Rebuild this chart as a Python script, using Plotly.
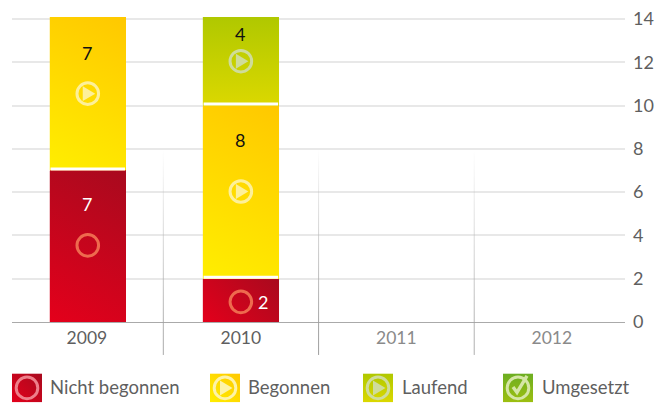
import base64
import plotly.graph_objects as go

years = [2009, 2010, 2011, 2012]
year_labels = ["2009", "2010", "2011", "2012"]
series_names = ["Nicht begonnen", "Begonnen", "Laufend", "Umgesetzt"]
nicht_begonnen = [7, 2, 0, 0]
begonnen = [7, 8, 0, 0]
laufend = [0, 4, 0, 0]
umgesetzt = [0, 0, 0, 0]
y_ticks = [0, 2, 4, 6, 8, 10, 12, 14]

W, H = 665, 403
L, R, T, B = 12, 40, 17, 80.5
PW, PH = W - L - R, H - T - B
XMIN, XMAX = 2008.528, 2012.471
YMAX = 14.09
PX_Y = YMAX / PH
PX_X = (XMAX - XMIN) / PW
BAR_W = 76.5 * PX_X
BAR_SHIFT = {2009: 2.4 * PX_X, 2010: 0, 2011: 0, 2012: 0}
FONT = "Lato"

GRAD = {
    "Nicht begonnen": ("diag", "#e4001b", "#a80a1e"),
    "Begonnen": ("diag", "#ffee00", "#ffc800"),
    "Laufend": ("vert", "#dbd800", "#b0c800"),
    "Umgesetzt": ("vert", "#9dbf10", "#6cae22"),
}
SOLID = {"Nicht begonnen": "#c80a1e", "Begonnen": "#ffdc00", "Laufend": "#c8d000", "Umgesetzt": "#85b619"}
ICON = {"Nicht begonnen": "ring", "Begonnen": "play", "Laufend": "play", "Umgesetzt": "check"}


def uri(svg):
    return "data:image/svg+xml;base64," + base64.b64encode(svg.encode()).decode()


def grad_defs(name, w, h):
    kind, c1, c2 = GRAD[name]
    if kind == "diag":
        k = 0.55 if h > w else 1.0
        dy = (k * w + h) / (2 * (k * k + 1))
        dx = k * dy
        x1, y1, x2, y2 = w / 2 - dx, h / 2 + dy, w / 2 + dx, h / 2 - dy
    else:
        x1, y1, x2, y2 = 0, h, 0, 0
    return (f'<defs><linearGradient id="g" gradientUnits="userSpaceOnUse" x1="{x1}" y1="{y1}" x2="{x2}" y2="{y2}">'
            f'<stop offset="0" stop-color="{c1}"/><stop offset="1" stop-color="{c2}"/></linearGradient></defs>')


def grad_svg(name, w, h):
    return (f'<svg xmlns="http://www.w3.org/2000/svg" width="{w}" height="{h}" viewBox="0 0 {w} {h}" preserveAspectRatio="none">'
            + grad_defs(name, w, h) + f'<rect width="{w}" height="{h}" fill="url(#g)"/></svg>')


def icon_parts(kind, cx, cy, stroke, fill):
    s = f'<circle cx="{cx}" cy="{cy}" r="10.8" fill="none" stroke="{stroke}" stroke-width="3"/>'
    if kind == "play":
        s += f'<path d="M{cx-5} {cy-7.5} L{cx+7.5} {cy} L{cx-5} {cy+7.5} Z" fill="{fill}"/>'
    if kind == "check":
        s += (f'<path d="M{cx-5} {cy-1} L{cx-1} {cy+4.5} L{cx+9} {cy-12}" fill="none" '
              f'stroke="{fill}" stroke-width="3.4"/>')
    return s


def icon_svg(kind, stroke, fill):
    return ('<svg xmlns="http://www.w3.org/2000/svg" width="28" height="28" viewBox="0 0 28 28">'
            + icon_parts(kind, 14, 14, stroke, fill) + '</svg>')


def legend_svg(name):
    stroke = "#ee7f8a" if name == "Nicht begonnen" else "#fdf3a8" if name == "Begonnen" else "#cfdc9a" if name == "Laufend" else "#d5e6a5"
    return ('<svg xmlns="http://www.w3.org/2000/svg" width="30" height="29" viewBox="0 0 30 29">' + grad_defs(name, 30, 29)
            + '<rect width="30" height="29" fill="url(#g)"/>' + icon_parts(ICON[name], 15, 14.5, stroke, stroke) + '</svg>')


sep_svg = ('<svg xmlns="http://www.w3.org/2000/svg" width="2" height="200" viewBox="0 0 2 200" preserveAspectRatio="none">'
           '<defs><linearGradient id="s" x1="0" y1="0" x2="0" y2="1"><stop offset="0" stop-color="#b0b0b0" stop-opacity="0"/>'
           '<stop offset="0.5" stop-color="#b8b8b8" stop-opacity="0.8"/><stop offset="0.82" stop-color="#a0a0a0"/>'
           '<stop offset="1" stop-color="#949494"/></linearGradient></defs><rect width="2" height="200" fill="url(#s)"/></svg>')

fig = go.Figure()
series = [nicht_begonnen, begonnen, laufend, umgesetzt]
for name, vals in zip(series_names, series):
    fig.add_bar(x=years, y=vals, name=name, width=BAR_W,
                offset=[-BAR_W / 2 + BAR_SHIFT[yr] for yr in years],
                marker=dict(color=SOLID[name], line=dict(width=0)), showlegend=False)

images, shapes, annos = [], [], []
for yr in years[:-1]:
    images.append(dict(source=uri(sep_svg), xref="x", yref="paper", x=yr + 0.5 - 0.5 * PX_X, y=(PH - (150 - T)) / PH,
                       sizex=1.2 * PX_X, sizey=205.5 / PH, sizing="stretch", xanchor="left", yanchor="top", layer="above"))

PLACE = {
    (2009, 0): (3.54, 5.44, 0, "#ffffff", "#ee6a4e"),
    (2009, 1): (10.55, 12.44, 0, "#111111", "#fdf09a"),
    (2010, 0): (0.93, 0.93, 23, "#ffffff", "#ee6a4e"),
    (2010, 1): (6.03, 8.4, 0, "#111111", "#fdf09a"),
    (2010, 2): (12.05, 13.3, 0, "#111111", "#cfdc9a"),
}
for i, yr in enumerate(years):
    base = 0
    cx = yr + BAR_SHIFT[yr]
    for j, (name, vals) in enumerate(zip(series_names, series)):
        v = vals[i]
        if not v:
            continue
        top = base + v
        pad = YMAX - top if top == 14 else 0
        images.append(dict(source=uri(grad_svg(name, 77, round((v + pad) / PX_Y))), xref="x", yref="y", x=cx - BAR_W / 2, y=top + pad,
                           sizex=BAR_W, sizey=v + pad, sizing="stretch", xanchor="left", yanchor="top", layer="above"))
        iy, ly, dx, tc, ic = PLACE[(yr, j)]
        images.append(dict(source=uri(icon_svg(ICON[name], ic, ic)), xref="x", yref="y", x=cx, y=iy,
                           sizex=28 * PX_X, sizey=28 * PX_Y, sizing="stretch", xanchor="center", yanchor="middle", layer="above"))
        annos.append(dict(x=cx, y=ly, xref="x", yref="y", text=str(v), showarrow=False, xshift=dx - 1,
                          font=dict(family=FONT, size=18, color=tc)))
        if base > 0:
            shapes.append(dict(type="rect", xref="x", yref="y", x0=cx - BAR_W / 2 + PX_X, x1=cx + BAR_W / 2 - PX_X,
                               y0=base, y1=base + 3 * PX_Y, fillcolor="#ffffff", line=dict(width=0), layer="above"))
        base = top

swatch_x = [12, 210, 363, 503]
text_x = [50, 248, 402, 542]
for name, sx, tx in zip(series_names, swatch_x, text_x):
    images.append(dict(source=uri(legend_svg(name)), xref="paper", yref="paper", x=(sx - L) / PW, y=(PH - (374 - T)) / PH,
                       sizex=30 / PW, sizey=29 / PH, sizing="stretch", xanchor="left", yanchor="top", layer="above"))
    annos.append(dict(x=(tx - L) / PW, y=(PH - (388 - T)) / PH, xref="paper", yref="paper", text=name, showarrow=False,
                      xanchor="left", yanchor="middle", xshift=-2, font=dict(family=FONT, size=18.5, color="#5f5f5f")))

tick_text = [year_labels[0], year_labels[1]] + [f'<span style="color:#8a8a8a">{t}</span>' for t in year_labels[2:]]

fig.update_layout(
    width=W, height=H, margin=dict(l=L, r=R, t=T, b=B, pad=0, autoexpand=False),
    paper_bgcolor="#ffffff", plot_bgcolor="#ffffff", barmode="stack", bargap=0,
    images=images, shapes=shapes, annotations=annos,
    xaxis=dict(range=[XMIN, XMAX], tickmode="array", tickvals=[y + 1.5 * PX_X if y == 2009 else y for y in years],
               ticktext=tick_text, ticks="", showgrid=False,
               zeroline=False, showline=True, linecolor="#aaaaaa", linewidth=1,
               tickfont=dict(family=FONT, size=17.5, color="#5f5f5f"), ticklabelstandoff=0),
    yaxis=dict(range=[0, YMAX], side="right", tickmode="array", tickvals=y_ticks, ticks="", showgrid=True,
               gridcolor="#e8e8e8", gridwidth=1.5, zeroline=False, showline=False,
               tickfont=dict(family=FONT, size=18, color="#5f5f5f"), ticklabelstandoff=7),
)
fig.write_html("out.html", config={"displayModeBar": False},
               post_script="document.body.style.margin='0';document.documentElement.style.overflow='hidden';")
